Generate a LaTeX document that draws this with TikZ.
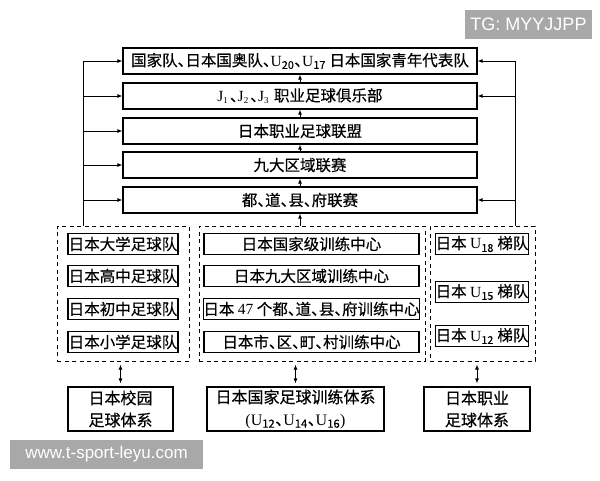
\documentclass[tikz,border=0pt]{standalone}
\usepackage{fontspec}
\setmainfont{Noto Sans CJK SC}[RawFeature=+halt, FakeBold=0.4]
\newfontfamily\latfont{Liberation Serif}
\newfontfamily\wmfont{Liberation Sans}
\usetikzlibrary{arrows.meta}
\definecolor{wmgray}{HTML}{A8A8A8}
\newcommand{\Usub}[1]{{\latfont U}$_{\mathrm{#1}}$}
\newcommand{\Jsub}[1]{{\latfont J\raisebox{-2.5pt}{\fontsize{9}{9}\selectfont #1}}\kern2pt\relax}
\tikzset{
  topbox/.style={draw, line width=1.2pt, minimum width=354, minimum height=26, inner sep=0pt},
  subbox/.style={draw, line width=1.4pt, minimum height=21, inner sep=0pt},
  groupbox/.style={draw, dash pattern=on 4pt off 3.5pt, line width=1pt},
  basebox/.style={draw, line width=1.2pt, minimum height=44, align=center, inner sep=0pt},
  arr/.style={-{Latex[length=5pt,width=4pt]}, line width=0.9pt},
  darr/.style={{Latex[length=5pt,width=4pt]}-{Latex[length=5pt,width=4pt]}, line width=0.9pt, shorten <=3pt, shorten >=3pt},
  wmark/.style={fill=wmgray, text=white, inner sep=0pt}
}
\begin{document}
\begin{tikzpicture}[x=1pt,y=1pt,yscale=-1,font=\fontsize{15.5}{18}\selectfont]
\useasboundingbox (0,0) rectangle (600,480);
\fill[white] (0,0) rectangle (600,480);

%Levels of the pyramid
\node[topbox] (t1) at (300,61) {国家队、日本国奥队、\Usub{20}、\Usub{17} 日本国家青年代表队};
\node[topbox] (t2) at (300,96) {\Jsub{1}、\Jsub{2}、\Jsub{3} 职业足球俱乐部};
\node[topbox] (t3) at (300,131) {日本职业足球联盟};
\node[topbox] (t4) at (300,165) {九大区域联赛};
\node[topbox] (t5) at (300,200) {都、道、县、府联赛};

%Dashed groups
\node[groupbox, minimum width=132, minimum height=135] (gschool) at (123,293.5) {};
\node[groupbox, minimum width=226, minimum height=135] (gtrain) at (312,293.5) {};
\node[groupbox, minimum width=105, minimum height=135] (gpro) at (482.5,293.5) {};

%School teams
\node[subbox, minimum width=110] (s1) at (123,244) {日本大学足球队};
\node[subbox, minimum width=110] (s2) at (123,276) {日本高中足球队};
\node[subbox, minimum width=110] (s3) at (123,309) {日本初中足球队};
\node[subbox, minimum width=110] (s4) at (123,342) {日本小学足球队};

%Training centres
\node[subbox, minimum width=215] (c1) at (311.5,244) {日本国家级训练中心};
\node[subbox, minimum width=215] (c2) at (311.5,276) {日本九大区域训练中心};
\node[subbox, minimum width=215] (c3) at (311.5,309) {日本 {\latfont 47} 个都、道、县、府训练中心};
\node[subbox, minimum width=215] (c4) at (311.5,342) {日本市、区、町、村训练中心};

%Ladder teams
\node[subbox, minimum width=90] (u1) at (482,244) {日本 \Usub{18} 梯队};
\node[subbox, minimum width=90] (u2) at (482,292) {日本 \Usub{15} 梯队};
\node[subbox, minimum width=90] (u3) at (482,336) {日本 \Usub{12} 梯队};

%Systems
\node[basebox, minimum width=105, font=\fontsize{16}{22}\selectfont] (b1) at (120.5,409) {日本校园\\足球体系};
\node[basebox, minimum width=177, font=\fontsize{16}{22}\selectfont] (b2) at (295.5,409) {日本国家足球训练体系\\{\latfont (}\Usub{12}、\Usub{14}、\Usub{16}{\latfont )}};
\node[basebox, minimum width=106, font=\fontsize{16}{22}\selectfont] (b3) at (477,409) {日本职业\\足球体系};

%Arrows up the levels
\draw[arr] (t2) -- (t1);
\draw[arr] (t3) -- (t2);
\draw[arr] (t4) -- (t3);
\draw[arr] (t5) -- (t4);
\draw[arr] (t5.south |- gtrain.north) -- (t5.south);

%Side lines
\coordinate (lbus) at (83,226);
\coordinate (rbus) at (515,226);
\draw[arr] (lbus) |- (t1.west);
\foreach \n in {t2,t3,t4,t5}
  \draw[arr] (lbus |- \n.west) -- (\n.west);
\draw[arr] (rbus) |- (t1.east);
\foreach \n in {t2,t5}
  \draw[arr] (rbus |- \n.east) -- (\n.east);

%Double arrows to the systems
\draw[darr] (b1.north |- gschool.south) -- (b1.north);
\draw[darr] (b2.north |- gtrain.south) -- (b2.north);
\draw[darr] (b3.north |- gpro.south) -- (b3.north);

%Marks
\node[wmark, minimum width=127, minimum height=29, font=\wmfont\fontsize{18}{18}\selectfont] (tg) at (528.5,24.5) {TG: MYYJJPP};
\node[wmark, minimum width=193, minimum height=29, font=\wmfont\fontsize{17}{17}\selectfont] (site) at (106.5,454.5) {www.t-sport-leyu.com};
\end{tikzpicture}
\end{document}
